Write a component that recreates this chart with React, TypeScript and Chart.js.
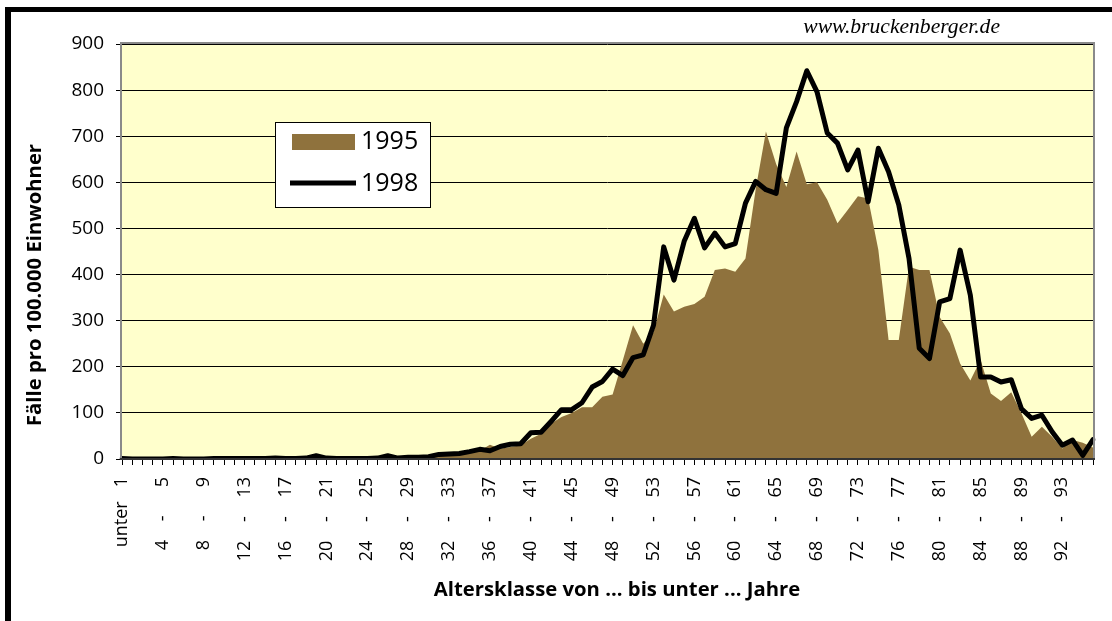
import React, { useEffect, useRef } from 'react';
import { Chart, registerables } from 'chart.js';

Chart.register(...registerables);

const categories: string[] = [
  'unter 1', '1 - 2', '2 - 3', '3 - 4', '4 - 5', '5 - 6', '6 - 7', '7 - 8', '8 - 9', '9 - 10',
  '10 - 11', '11 - 12', '12 - 13', '13 - 14', '14 - 15', '15 - 16', '16 - 17', '17 - 18', '18 - 19', '19 - 20',
  '20 - 21', '21 - 22', '22 - 23', '23 - 24', '24 - 25', '25 - 26', '26 - 27', '27 - 28', '28 - 29', '29 - 30',
  '30 - 31', '31 - 32', '32 - 33', '33 - 34', '34 - 35', '35 - 36', '36 - 37', '37 - 38', '38 - 39', '39 - 40',
  '40 - 41', '41 - 42', '42 - 43', '43 - 44', '44 - 45', '45 - 46', '46 - 47', '47 - 48', '48 - 49', '49 - 50',
  '50 - 51', '51 - 52', '52 - 53', '53 - 54', '54 - 55', '55 - 56', '56 - 57', '57 - 58', '58 - 59', '59 - 60',
  '60 - 61', '61 - 62', '62 - 63', '63 - 64', '64 - 65', '65 - 66', '66 - 67', '67 - 68', '68 - 69', '69 - 70',
  '70 - 71', '71 - 72', '72 - 73', '73 - 74', '74 - 75', '75 - 76', '76 - 77', '77 - 78', '78 - 79', '79 - 80',
  '80 - 81', '81 - 82', '82 - 83', '83 - 84', '84 - 85', '85 - 86', '86 - 87', '87 - 88', '88 - 89', '89 - 90',
  '90 - 91', '91 - 92', '92 - 93', '93 - 94', '94 - 95', '95 - 96',
];

const rate1995: number[] = [
  0, 0, 0, 0, 0, 0, 0, 0, 0, 0,
  0, 0, 0, 0, 0, 1, 1, 1, 1, 2,
  1, 1, 1, 1, 1, 2, 2, 2, 3, 3,
  5, 6, 8, 9, 12, 18, 31, 22, 26, 30,
  44, 55, 77, 91, 100, 112, 112, 135, 140, 214,
  290, 250, 275, 357, 320, 330, 336, 352, 410, 413,
  406, 435, 585, 710, 640, 590, 667, 596, 600, 562,
  511, 540, 570, 565, 453, 258, 258, 417, 410, 410,
  308, 272, 207, 170, 215, 142, 126, 145, 99, 48,
  70, 48, 23, 41, 35, 25,
];

const rate1998: number[] = [
  1, 0, 0, 0, 0, 1, 0, 0, 0, 1,
  1, 1, 1, 1, 1, 2, 1, 1, 2, 7,
  2, 1, 1, 1, 1, 2, 7, 2, 4, 4,
  5, 10, 11, 12, 16, 21, 18, 27, 32, 33,
  57, 58, 82, 107, 107, 122, 156, 168, 195, 181,
  220, 226, 290, 460, 388, 472, 522, 458, 490, 460,
  467, 555, 602, 584, 576, 718, 775, 842, 796, 707,
  685, 627, 670, 558, 674, 623, 551, 435, 240, 218,
  341, 348, 453, 355, 178, 178, 167, 172, 109, 88,
  95, 59, 30, 41, 8, 42,
];

const seriesNames = ['1995', '1998'];
const yMin = 0;
const yMax = 900;
const yStep = 100;
const yTitle = 'Fälle pro 100.000 Einwohner';
const xTitle = 'Altersklasse von ... bis unter ... Jahre';
const sourceText = 'www.bruckenberger.de';

const BROWN = '#8F723D';
const PLOT_BG = '#FFFFCC';
const FONT = "'Open Sans', 'DejaVu Sans', sans-serif";

function formatTick(label: string): string {
  if (label.startsWith('unter')) return label.replace(' ', '   ');
  const parts = label.split(' - ');
  const pad = (s: string) => (s.length < 2 ? '  ' + s : s);
  return pad(parts[0]) + '    -    ' + pad(parts[1]);
}

const decorPlugin = {
  id: 'decor',
  beforeDraw(chart: any) {
    const { ctx, chartArea: a } = chart;
    ctx.save();
    ctx.fillStyle = PLOT_BG;
    ctx.fillRect(a.left, a.top, a.right - a.left, a.bottom - a.top);
    ctx.restore();
  },
  afterDatasetsDraw(chart: any) {
    const { ctx, chartArea: a } = chart;
    ctx.save();
    // plot frame
    ctx.strokeStyle = '#8a8a8a';
    ctx.lineWidth = 2;
    ctx.beginPath();
    ctx.moveTo(a.left - 1, a.bottom);
    ctx.lineTo(a.left - 1, a.top - 1);
    ctx.lineTo(a.right + 1, a.top - 1);
    ctx.lineTo(a.right + 1, a.bottom);
    ctx.stroke();
    // x axis line
    ctx.strokeStyle = '#333333';
    ctx.lineWidth = 2;
    ctx.beginPath();
    ctx.moveTo(a.left - 2, a.bottom);
    ctx.lineTo(a.right + 2, a.bottom);
    ctx.stroke();
    ctx.restore();
  },
  afterDraw(chart: any) {
    const { ctx } = chart;
    const ds = chart.data.datasets;
    ctx.save();
    // page frame (cropped border)
    ctx.fillStyle = '#000';
    ctx.fillRect(5, 7, 1107, 5);
    ctx.fillRect(5, 7, 6, 614);

    // legend
    ctx.fillStyle = '#fff';
    ctx.fillRect(275, 122, 155, 85);
    ctx.strokeStyle = '#000';
    ctx.lineWidth = 1;
    ctx.strokeRect(275.5, 122.5, 155, 85);
    const area = ds.find((d: any) => d.label === seriesNames[0]);
    const line = ds.find((d: any) => d.label === seriesNames[1]);
    ctx.fillStyle = area.backgroundColor;
    ctx.fillRect(292, 134, 63, 16);
    ctx.strokeStyle = line.borderColor;
    ctx.lineWidth = 5;
    ctx.beginPath();
    ctx.moveTo(290, 183);
    ctx.lineTo(356, 183);
    ctx.stroke();
    ctx.fillStyle = '#000';
    ctx.font = `25px ${FONT}`;
    ctx.textAlign = 'left';
    ctx.textBaseline = 'middle';
    ctx.fillText(area.label, 361, 142);
    ctx.fillText(line.label, 361, 184);

    // axis titles
    ctx.font = `bold 20.3px ${FONT}`;
    ctx.textAlign = 'center';
    ctx.textBaseline = 'middle';
    ctx.fillText(xTitle, 617, 590);
    ctx.save();
    ctx.translate(35, 285);
    ctx.rotate(-Math.PI / 2);
    ctx.fillText(yTitle, 0, 0);
    ctx.restore();

    // source
    ctx.font = "italic 21.6px 'Liberation Serif', 'DejaVu Serif', serif";
    ctx.textAlign = 'right';
    ctx.textBaseline = 'alphabetic';
    ctx.fillText(sourceText, 1000, 33);
    ctx.restore();
  },
};

export default function App() {
  const canvasRef = useRef<HTMLCanvasElement | null>(null);

  useEffect(() => {
    if (!canvasRef.current) return;
    const chart = new Chart(canvasRef.current, {
      type: 'line',
      data: {
        labels: categories,
        datasets: [
          {
            label: seriesNames[1],
            data: rate1998,
            borderColor: '#000000',
            borderWidth: 5,
            borderJoinStyle: 'round',
            borderCapStyle: 'round',
            pointRadius: 0,
            fill: false,
            tension: 0,
            order: 0,
          },
          {
            label: seriesNames[0],
            data: rate1995,
            borderColor: 'rgba(0,0,0,0)',
            borderWidth: 0,
            backgroundColor: BROWN,
            pointRadius: 0,
            fill: 'origin',
            tension: 0,
            order: 1,
          },
        ],
      },
      options: {
        animation: false,
        responsive: true,
        maintainAspectRatio: false,
        layout: { padding: { top: 44, right: 19, left: 0, bottom: 0 } },
        plugins: {
          legend: { display: false },
          tooltip: { enabled: false },
          title: { display: false },
        },
        scales: {
          x: {
            type: 'category',
            offset: false,
            grid: {
              display: true,
              drawOnChartArea: false,
              drawTicks: true,
              tickLength: 6,
              color: '#000',
              lineWidth: 1,
            },
            border: { display: false },
            ticks: {
              autoSkip: false,
              maxRotation: 90,
              minRotation: 90,
              padding: 12,
              color: '#000',
              font: { family: FONT, size: 18 },
              callback: function (this: any, val: any, idx: number) {
                return idx % 4 === 0 ? formatTick(this.getLabelForValue(val)) : '';
              },
            },
            afterFit: (s: any) => {
              s.height = 162;
              s.paddingLeft = 0;
              s.paddingRight = 0;
            },
          },
          y: {
            min: yMin,
            max: yMax,
            ticks: {
              stepSize: yStep,
              padding: 12,
              color: '#000',
              font: { family: FONT, size: 19 },
            },
            grid: { color: '#000', lineWidth: 1, tickLength: 6, drawTicks: true },
            border: { display: false },
            afterFit: (s: any) => {
              s.width = 122;
              s.paddingTop = 0;
              s.paddingBottom = 0;
            },
          },
        },
      } as any,
      plugins: [decorPlugin],
    });
    return () => chart.destroy();
  }, []);

  return (
    <div
      style={{
        position: 'absolute',
        left: 0,
        top: 0,
        width: 1112,
        height: 621,
        background: '#fff',
      }}
    >
      <canvas ref={canvasRef} />
    </div>
  );
}
